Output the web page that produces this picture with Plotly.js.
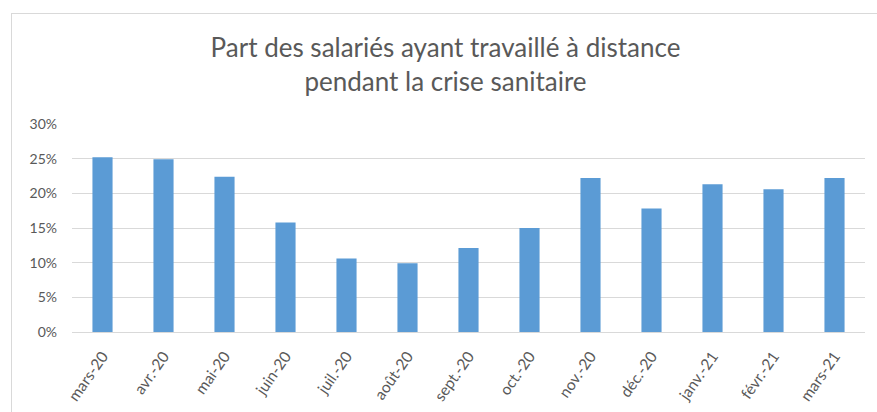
<!DOCTYPE html>
<html>
<head>
<meta charset="utf-8">
<script src="https://cdn.plot.ly/plotly-3.0.1.min.js"></script>
<style>
html,body{margin:0;padding:0;background:#fff;}
#wrap{position:relative;width:877px;height:412px;overflow:hidden;}
#chart{width:877px;height:412px;}
#frame{position:absolute;left:11px;top:13px;width:900px;height:420px;border-left:1px solid #d9d9d9;border-top:1px solid #d9d9d9;pointer-events:none;}
</style>
</head>
<body>
<div id="wrap">
<div id="chart"></div>
<div id="frame"></div>
</div>
<script>
const months = ["mars-20","avr.-20","mai-20","juin-20","juil.-20","août-20","sept.-20","oct.-20","nov.-20","déc.-20","janv.-21","févr.-21","mars-21"];
const shares = [0.252, 0.249, 0.224, 0.158, 0.106, 0.099, 0.121, 0.150, 0.222, 0.178, 0.213, 0.206, 0.222];
const yTicks = [0, 0.05, 0.10, 0.15, 0.20, 0.25, 0.30];
const yTickText = ["0%","5%","10%","15%","20%","25%","30%"];
const titleText = "Part des salariés ayant travaillé à distance<br>pendant la crise sanitaire";

const trace = {
  type: "bar",
  x: months,
  y: shares,
  marker: {color: "#5b9bd5"},
  hoverinfo: "x+y"
};

const layout = {
  width: 877, height: 412,
  margin: {l: 72, r: 12, t: 124, b: 80},
  paper_bgcolor: "#ffffff",
  plot_bgcolor: "#ffffff",
  font: {family: "Lato, 'Open Sans', sans-serif", color: "#595959", size: 13},
  title: {
    text: titleText,
    font: {family: "Lato, 'Open Sans', sans-serif", size: 26, color: "#595959"},
    x: 0.508, xanchor: "center",
    y: 0.862, yanchor: "middle", yref: "container"
  },
  bargap: 0.67,
  showlegend: false,
  xaxis: {
    type: "category",
    tickangle: -55,
    showgrid: false,
    showline: true,
    linecolor: "#d9d9d9",
    ticks: "",
    ticklabelstandoff: 8,
    tickfont: {size: 15.5, color: "#595959"}
  },
  yaxis: {
    range: [0, 0.30],
    tickvals: yTicks,
    ticktext: yTickText,
    showgrid: true,
    gridcolor: "#d9d9d9",
    zeroline: true,
    zerolinecolor: "#d9d9d9",
    showline: false,
    ticks: "",
    ticklabelstandoff: 14,
    tickfont: {size: 14, color: "#595959"}
  }
};

Plotly.newPlot("chart", [trace], layout, {displayModeBar: false, staticPlot: true});
</script>
</body>
</html>
